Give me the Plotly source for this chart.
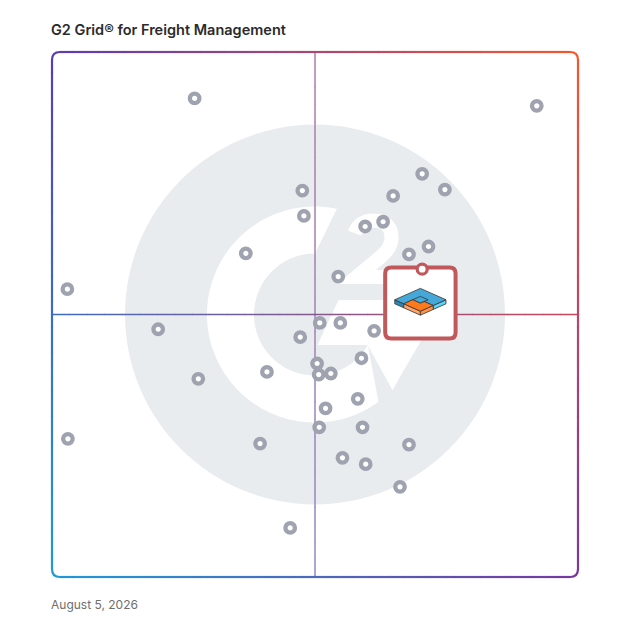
import numpy as np
import plotly.graph_objects as go

# ---------------- data ----------------
title_text = "G2 Grid® for Freight Management"
date_text = "August 5, 2026"

# satisfaction (x) and market presence (y) on a 0-100 scale
vendor_x = [27.2, 47.6, 47.9, 36.9, 3.1, 92.0, 70.3, 74.6, 64.8, 62.9, 59.5, 71.5, 67.8, 54.4,
            20.3, 47.2, 27.9, 40.9, 3.2, 39.6, 45.3,
            50.9, 54.8, 61.2, 58.8, 50.4, 50.7, 53.0, 58.1, 52.0, 50.8, 59.0, 67.8, 55.2, 59.6, 66.1]
vendor_y = [91.0, 73.5, 68.7, 61.6, 54.8, 89.6, 76.7, 73.7, 72.5, 67.6, 66.7, 62.9, 61.4, 57.2,
            47.2, 45.7, 37.8, 39.1, 26.4, 25.5, 9.5,
            48.4, 48.4, 46.9, 41.7, 40.7, 38.6, 38.8, 34.0, 32.2, 28.6, 28.6, 25.3, 22.8, 21.6, 17.3]
featured_x = [70.3]
featured_y = [58.6]

x_range = [0, 100]
y_range = [0, 100]

# ---------------- geometry / styling ----------------
W = H = 628
PAGE_OFF = 8                      # default body margin of the page
ML, MT = 51 - PAGE_OFF, 51 - PAGE_OFF
PW, PH = 528, 527
MR = W - ML - PW
MB = H - MT - PH

DOT = '#9ea3af'
RED = '#c1585b'
WM = '#e9ecef'

shapes = []


def path_of(pts, close=True):
    s = "M " + " L ".join(f"{x:.2f},{y:.2f}" for x, y in pts)
    return s + (" Z" if close else "")


def pix(path, xanchor, yanchor, xref='paper', yref='paper', **kw):
    d = dict(type='path', path=path, xref=xref, yref=yref,
             xsizemode='pixel', ysizemode='pixel',
             xanchor=xanchor, yanchor=yanchor, layer='below')
    d.update(kw)
    return d


def rgb(c):
    return 'rgb(%d,%d,%d)' % tuple(int(round(v)) for v in c)


TL = (88, 60, 180)
TR = (250, 85, 45)
BL = (30, 155, 215)
BR = (120, 55, 160)


def grad(u, v):
    top = [TL[i] * (1 - u) + TR[i] * u for i in range(3)]
    bot = [BL[i] * (1 - u) + BR[i] * u for i in range(3)]
    return rgb([bot[i] * (1 - v) + top[i] * v for i in range(3)])


def lerp(c0, c1, t):
    return rgb([c0[i] * (1 - t) + c1[i] * t for i in range(3)])


def seg(x0, y0, x1, y1, color, width):
    return pix(f"M {x0:.2f},{y0:.2f} L {x1:.2f},{y1:.2f}", 0, 0,
               line=dict(color=color, width=width))


# ---- G2 watermark (pixel offsets from plot centre, y up) ----
shapes.append(dict(type='circle', xref='paper', yref='paper', xsizemode='pixel', ysizemode='pixel',
                   xanchor=0.5, yanchor=0.5, x0=-190, x1=190, y0=-190, y1=190,
                   fillcolor=WM, line=dict(width=0), layer='below'))
R_OUT, R_IN = 108, 61
a_out = np.radians(np.linspace(78.3, 306, 140))
a_in = np.radians(np.linspace(330, 90, 120))
ring = [(R_OUT * np.cos(a), R_OUT * np.sin(a)) for a in a_out] + \
       [(R_IN * np.cos(a), R_IN * np.sin(a)) for a in a_in]
shapes.append(pix(path_of(ring), 0.5, 0.5, fillcolor='white', line=dict(width=0)))
bar = [(23.5, 14.5), (129.5, 14.5), (77.5, -75.5), (52.5, -30.5), (2.5, -30.5)]
shapes.append(pix(path_of(bar), 0.5, 0.5, fillcolor='white', line=dict(width=0)))


def c2(X, Y):
    return (X - 314.5, 314.5 - Y)


p = [c2(354, 233), c2(359, 220.5), c2(373, 220.5), c2(391, 221), c2(391, 238),
     c2(391, 248), c2(380, 257), c2(356, 277), c2(397, 277)]
two = (f"M {p[0][0]:.1f},{p[0][1]:.1f} Q {p[1][0]:.1f},{p[1][1]:.1f} {p[2][0]:.1f},{p[2][1]:.1f} "
       f"Q {p[3][0]:.1f},{p[3][1]:.1f} {p[4][0]:.1f},{p[4][1]:.1f} "
       f"Q {p[5][0]:.1f},{p[5][1]:.1f} {p[6][0]:.1f},{p[6][1]:.1f} "
       f"L {p[7][0]:.1f},{p[7][1]:.1f} L {p[8][0]:.1f},{p[8][1]:.1f}")
shapes.append(pix(two, 0.5, 0.5, line=dict(color='white', width=14)))

# ---- quadrant lines (gradient) ----
d = 1.0
N = 30
VT, VB = (180, 122, 165), (144, 136, 200)
for k in range(N):
    ya = d + (PH - 2 * d) * k / N
    yb = d + (PH - 2 * d) * (k + 1) / N
    t = 1 - (k + 0.5) / N
    shapes.append(seg(PW / 2, ya - 0.3, PW / 2, yb + 0.3, lerp(VT, VB, t), 1.5))
HL, HR = (63, 106, 192), (200, 70, 90)
for k in range(N):
    xa = d + (PW - 2 * d) * k / N
    xb = d + (PW - 2 * d) * (k + 1) / N
    shapes.append(seg(xa - 0.3, PH / 2, xb + 0.3, PH / 2, lerp(HL, HR, (k + 0.5) / N), 1.5))

# ---- gradient rounded border ----
r = 8
BW = 2.2
NB = 40
for k in range(NB):
    xa = d + r + (PW - 2 * d - 2 * r) * k / NB
    xb = d + r + (PW - 2 * d - 2 * r) * (k + 1) / NB
    u = ((xa + xb) / 2) / PW
    shapes.append(seg(xa - 0.3, PH - d, xb + 0.3, PH - d, grad(u, 1), BW))
    shapes.append(seg(xa - 0.3, d, xb + 0.3, d, grad(u, 0), BW))
    ya = d + r + (PH - 2 * d - 2 * r) * k / NB
    yb = d + r + (PH - 2 * d - 2 * r) * (k + 1) / NB
    v = ((ya + yb) / 2) / PH
    shapes.append(seg(d, ya - 0.3, d, yb + 0.3, grad(0, v), BW))
    shapes.append(seg(PW - d, ya - 0.3, PW - d, yb + 0.3, grad(1, v), BW))
corners = [
    (f"M {d},{PH-d-r} Q {d},{PH-d} {d+r},{PH-d}", grad(0, 1)),
    (f"M {PW-d-r},{PH-d} Q {PW-d},{PH-d} {PW-d},{PH-d-r}", grad(1, 1)),
    (f"M {PW-d},{d+r} Q {PW-d},{d} {PW-d-r},{d}", grad(1, 0)),
    (f"M {d+r},{d} Q {d},{d} {d},{d+r}", grad(0, 0)),
]
for pth, col in corners:
    shapes.append(pix(pth, 0, 0, line=dict(color=col, width=BW)))

# ---- featured product callout box (pixel offsets from featured point) ----
bx0, bx1, by0, by1, br = -37.0, 33.4, -69.4, 1.6, 6
box = (f"M {bx0+br},{by1} L {bx1-br},{by1} Q {bx1},{by1} {bx1},{by1-br} "
       f"L {bx1},{by0+br} Q {bx1},{by0} {bx1-br},{by0} L {bx0+br},{by0} "
       f"Q {bx0},{by0} {bx0},{by0+br} L {bx0},{by1-br} Q {bx0},{by1} {bx0+br},{by1} Z")
fx, fy = featured_x[0], featured_y[0]
shapes.append(pix(box, fx, fy, xref='x', yref='y', fillcolor='white', line=dict(color=RED, width=4)))

# product logo (isometric slab)
LC = (-1.8, -30.6)
EXX, EXY, TH = 12.8, 5.7, 4.0


def iso(a, b, drop=0.0):
    return (LC[0] + EXX * (a - b), LC[1] - EXY * (a + b) - drop)


OUT = dict(color='#333333', width=0.8)
logo_polys = [
    # blue slab sides
    ([iso(1, -1), iso(1, 0), iso(1, 0, TH), iso(1, -1, TH)], '#5ad6f4'),
    ([iso(-1, 1), iso(-0.3, 1), iso(-0.3, 1, TH), iso(-1, 1, TH)], '#2e86b5'),
    # blue top (C shape)
    ([iso(-1, -1), iso(1, -1), iso(1, 0), iso(0.3, 0), iso(0.3, 0.3), iso(-0.3, 0.3),
      iso(-0.3, 1), iso(-1, 1)], '#45a8d8'),
    # orange piece sides
    ([iso(-0.3, 1), iso(1, 1), iso(1, 1, TH), iso(-0.3, 1, TH)], '#ffa46a'),
    ([iso(1, 0), iso(1, 1), iso(1, 1, TH), iso(1, 0, TH)], '#ff9448'),
    # orange top (L shape)
    ([iso(-0.3, 0.3), iso(0.3, 0.3), iso(0.3, 0), iso(1, 0), iso(1, 1), iso(-0.3, 1)], '#ff7a1c'),
]
for pts, col in logo_polys:
    shapes.append(pix(path_of(pts), fx, fy, xref='x', yref='y', fillcolor=col, line=OUT))
shapes.append(pix(path_of([iso(-0.3, 0.3), iso(-0.3, -0.3), iso(0.3, -0.3), iso(0.3, 0)], close=False),
                  fx, fy, xref='x', yref='y', line=OUT))

# ---------------- figure ----------------
fig = go.Figure()
fig.add_trace(go.Scatter(x=vendor_x, y=vendor_y, mode='markers', hoverinfo='skip',
                         marker=dict(size=9.5, color='white', line=dict(color=DOT, width=4.3))))
fig.add_trace(go.Scatter(x=featured_x, y=featured_y, mode='markers', hoverinfo='skip',
                         marker=dict(size=10, color='white', line=dict(color=RED, width=3.2))))

fig.update_layout(
    width=W, height=H,
    margin=dict(l=ML, r=MR, t=MT, b=MB, pad=0),
    paper_bgcolor='white', plot_bgcolor='white',
    showlegend=False,
    xaxis=dict(range=x_range, visible=False, fixedrange=True),
    yaxis=dict(range=y_range, visible=False, fixedrange=True),
    shapes=shapes,
    annotations=[
        dict(text=title_text, xref='paper', yref='paper', x=-2 / PW, y=(PH + 22) / PH,
             xanchor='left', yanchor='middle', showarrow=False,
             font=dict(family='Inter', size=14.5, color='#2b2b2b', weight=600)),
        dict(text=date_text, xref='paper', yref='paper', x=-2 / PW, y=-26 / PH,
             xanchor='left', yanchor='middle', showarrow=False,
             font=dict(family='Inter', size=12, color='#6e6e6e')),
    ],
)

fig.write_html("out.html")
